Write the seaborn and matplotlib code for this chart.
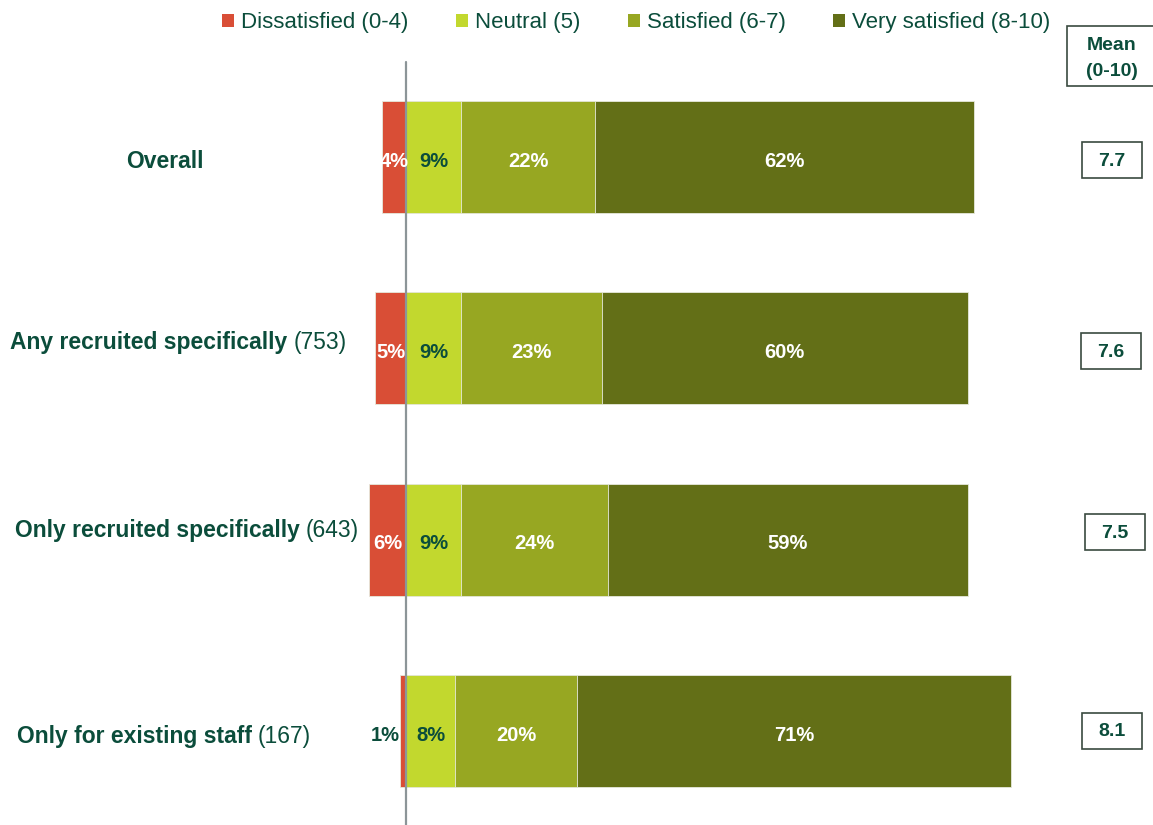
import matplotlib
matplotlib.use('Agg')
import matplotlib.pyplot as plt
import seaborn as sns
import pandas as pd
import numpy as np
from matplotlib.patches import Patch, Rectangle

groups = ['Overall', 'Any recruited specifically', 'Only recruited specifically', 'Only for existing staff']
bases = ['', '(753)', '(643)', '(167)']
dissatisfied = [4, 5, 6, 1]
neutral = [9, 9, 9, 8]
satisfied = [22, 23, 24, 20]
very_satisfied = [62, 60, 59, 71]
means = ['7.7', '7.6', '7.5', '8.1']
legend_labels = ['Dissatisfied (0-4)', 'Neutral (5)', 'Satisfied (6-7)', 'Very satisfied (8-10)']
colors = ['#D94E36', '#C2D82E', '#97A722', '#636F17']
text_dark = '#0B4D3B'

sns.set_theme(style='white')
plt.rcParams['font.family'] = ['Liberation Sans', 'DejaVu Sans']

W, H = 1153, 825
def fx(x):
    return x / W
def fy(y):
    return 1 - y / H

df = pd.DataFrame({
    'group': groups,
    'neg': [-v for v in dissatisfied],
    'c1': neutral,
    'c2': [a + b for a, b in zip(neutral, satisfied)],
    'c3': [a + b + c for a, b, c in zip(neutral, satisfied, very_satisfied)],
})

fig = plt.figure(figsize=(W / 100, H / 100), dpi=100)
ax = fig.add_axes([0, 0, 1, 1])
for col, color in [('c3', colors[3]), ('c2', colors[2]), ('c1', colors[1]), ('neg', colors[0])]:
    sns.barplot(data=df, x=col, y='group', color=color, width=0.585, ax=ax,
                saturation=1, edgecolor='#E6E9DC', linewidth=0.6, orient='h')

ax.set_xlim(-66.45, 122.26)
ax.set_ylim(3.492, -0.821)
ax.set_axis_off()
ax.axvline(0, ymin=0, ymax=1 - 62 / H, color='#8C9598', lw=1.6, zorder=5)

# percent labels
dy = 0.022
lbl = dict(fontsize=14.5, fontweight='bold', zorder=6, va='center')
for i in range(len(groups)):
    d = dissatisfied[i]
    if d >= 3:
        ax.text(-d / 2, i + dy, f'{d}%', ha='center', color='white', **lbl)
    else:
        ax.text(-d - 0.1, i + dy, f'{d}%', ha='right', color=text_dark, **lbl)
    n, s, v = neutral[i], satisfied[i], very_satisfied[i]
    ax.text(n / 2, i + dy, f'{n}%', ha='center', color=text_dark, **lbl)
    ax.text(n + s / 2, i + dy, f'{s}%', ha='center', color='white', **lbl)
    ax.text(n + s + v / 2, i + dy, f'{v}%', ha='center', color='white', **lbl)

# group labels
label_pos = [(165, 162, 'center'), (10, 343, 'left'), (15, 531, 'left'), (17, 736, 'left')]
fig.canvas.draw()
renderer = fig.canvas.get_renderer()
for i, (x, y, ha) in enumerate(label_pos):
    t = fig.text(fx(x), fy(y), groups[i], ha=ha, va='center', fontsize=16.5,
                 fontweight='bold', color=text_dark)
    if bases[i]:
        bb = t.get_window_extent(renderer=renderer)
        fig.text(fx(bb.x1 + 6), fy(y), bases[i], ha='left', va='center', fontsize=16.5,
                 color=text_dark)

# mean header
fig.patches.append(Rectangle((fx(1067), fy(86)), fx(100), 60 / H, transform=fig.transFigure,
                             facecolor='white', edgecolor='#3A4A40', lw=1.2, figure=fig))
fig.text(fx(1112), fy(46), 'Mean', ha='center', va='center', fontsize=14,
         fontweight='bold', color=text_dark)
fig.text(fx(1112), fy(71), '(0-10)', ha='center', va='center', fontsize=14,
         fontweight='bold', color=text_dark)

# mean boxes
mean_pos = [(1112, 160), (1111, 351), (1115, 532), (1112, 731)]
for (x, y), m in zip(mean_pos, means):
    fig.patches.append(Rectangle((fx(x - 30), fy(y + 18)), 60 / W, 36 / H,
                                 transform=fig.transFigure, facecolor='white',
                                 edgecolor='#3A4A40', lw=1.2, figure=fig))
    fig.text(fx(x), fy(y + 1), m, ha='center', va='center', fontsize=14,
             fontweight='bold', color=text_dark)

handles = [Patch(facecolor=c, edgecolor='none') for c in colors]
fig.legend(handles, legend_labels, loc='upper center', bbox_to_anchor=(fx(636), fy(1)),
           ncol=4, frameon=False, fontsize=16, handlelength=0.55, handleheight=0.55,
           handletextpad=0.3, columnspacing=2.15, borderpad=0, labelcolor=text_dark)

fig.savefig('out.png', dpi=100)
